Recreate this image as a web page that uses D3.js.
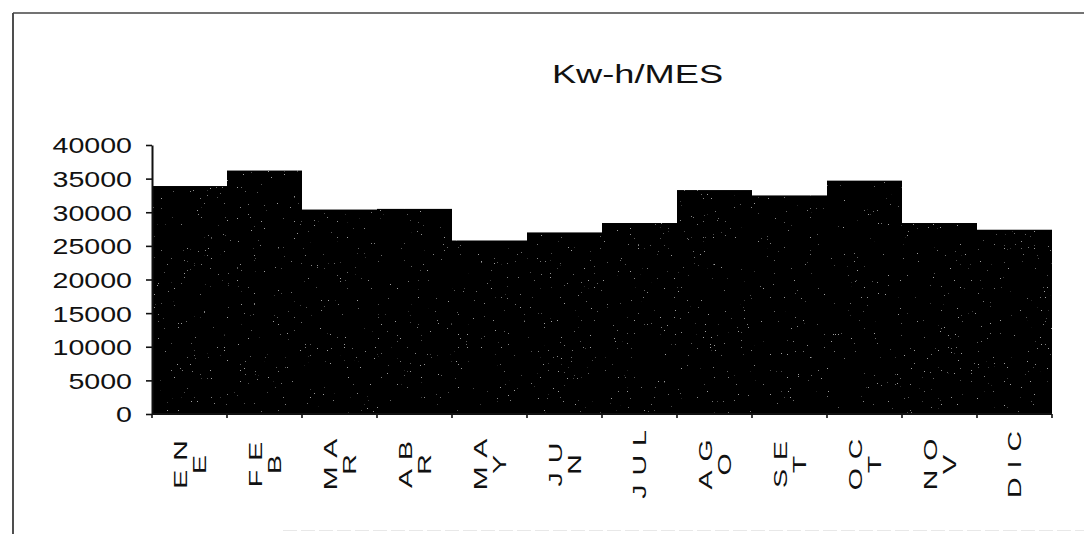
<!DOCTYPE html>
<html>
<head>
<meta charset="utf-8">
<script src="https://cdn.jsdelivr.net/npm/d3@7/dist/d3.min.js"></script>
<style>
  html, body { margin: 0; padding: 0; background: #fff; }
  svg { display: block; font-family: "Liberation Sans", Arial, sans-serif; }
</style>
</head>
<body>
<svg id="chart" width="1084" height="534"></svg>
<script>
// ---- data ----
const title = "Kw-h/MES";
const months = ["ENE","FEB","MAR","ABR","MAY","JUN","JUL","AGO","SET","OCT","NOV","DIC"];
const kwh = [33900, 36200, 30400, 30500, 25800, 27000, 28400, 33300, 32500, 34700, 28400, 27400];
const yTicks = [0, 5000, 10000, 15000, 20000, 25000, 30000, 35000, 40000];

// ---- layout ----
const W = 1084, H = 534;
const plot = { left: 152, right: 1052, top: 145, bottom: 414 };

const svg = d3.select("#chart");

// sparse speckle texture for the scanned-looking bars
const defs = svg.append("defs");
const f = defs.append("filter").attr("id", "speckle")
  .attr("x", 0).attr("y", 0).attr("width", 1).attr("height", 1);
f.append("feTurbulence").attr("type", "fractalNoise").attr("baseFrequency", 0.7)
  .attr("numOctaves", 2).attr("seed", 7).attr("result", "n");
f.append("feColorMatrix").attr("in", "n").attr("type", "matrix")
  .attr("values", "0 0 0 0 0.35  0 0 0 0 0.35  0 0 0 0 0.35  18 0 0 0 -13.8")
  .attr("result", "dots");
f.append("feComposite").attr("in", "dots").attr("in2", "SourceGraphic")
  .attr("operator", "in").attr("result", "d2");
const fm = f.append("feMerge");
fm.append("feMergeNode").attr("in", "SourceGraphic");
fm.append("feMergeNode").attr("in", "d2");

// frame (scanned page border)
svg.append("line").attr("x1", 13).attr("y1", 13).attr("x2", 13).attr("y2", H)
  .attr("stroke", "#222").attr("stroke-width", 1.6);
svg.append("line").attr("x1", 13).attr("y1", 13).attr("x2", W).attr("y2", 13)
  .attr("stroke", "#444").attr("stroke-width", 1.4);
svg.append("line").attr("x1", 283).attr("y1", 530.5).attr("x2", W).attr("y2", 530.5)
  .attr("stroke", "#e8e8e8").attr("stroke-width", 1.2).attr("stroke-dasharray", "14 4");

// scales
const x = d3.scaleBand().domain(months).range([plot.left, plot.right]).padding(0);
const y = d3.scaleLinear().domain([0, 40000]).range([plot.bottom, plot.top]);

// title
svg.append("text")
  .attr("transform", `translate(${(plot.left + plot.right) / 2 + 35.5},83) scale(1.45,1)`)
  .attr("text-anchor", "middle")
  .attr("font-size", 25)
  .attr("fill", "#111")
  .text(title);

// bars
svg.append("g").attr("filter", "url(#speckle)")
  .selectAll("rect").data(months).join("rect")
  .attr("x", d => x(d))
  .attr("width", x.bandwidth())
  .attr("y", (d, i) => y(kwh[i]))
  .attr("height", (d, i) => y(0) - y(kwh[i]))
  .attr("fill", "#050505");

// y axis
const yAxis = svg.append("g")
  .attr("transform", `translate(${plot.left},0)`)
  .call(d3.axisLeft(y).tickValues(yTicks).tickSize(6).tickSizeOuter(0).tickFormat(d3.format("d")));
yAxis.select(".domain").attr("stroke", "#111").attr("stroke-width", 2);
yAxis.selectAll(".tick line").attr("stroke", "#111").attr("stroke-width", 1.6);
yAxis.selectAll(".tick text")
  .attr("x", null).attr("dy", "0.36em")
  .attr("transform", "translate(-20,0) scale(1.3,1)")
  .attr("text-anchor", "end")
  .attr("font-size", 22)
  .attr("font-family", "\"Liberation Sans\", Arial, sans-serif")
  .attr("fill", "#111");

// x axis line with category-boundary ticks
const xg = svg.append("g");
xg.append("line")
  .attr("x1", plot.left).attr("x2", plot.right)
  .attr("y1", y(0)).attr("y2", y(0))
  .attr("stroke", "#111").attr("stroke-width", 2);
const bounds = months.map(m => x(m)).concat([x.range()[1]]);
xg.selectAll("line.tk").data(bounds).join("line").attr("class", "tk")
  .attr("x1", d => d).attr("x2", d => d)
  .attr("y1", y(0)).attr("y2", y(0) + 4)
  .attr("stroke", "#111").attr("stroke-width", 1.6);

// x labels: rotated -90, wrapped when wide (as in the original)
const fs = 19, lh = 19;
const probe = svg.append("text").attr("font-size", fs).attr("visibility", "hidden");
const labG = svg.append("g");
months.forEach(m => {
  probe.text(m);
  const wide = probe.node().getComputedTextLength() > fs * 1.85;
  const lines = wide ? [m.slice(0, 2), m.slice(2)] : [m];
  const cx = x(m) + x.bandwidth() / 2;
  const t = labG.append("text")
    .attr("transform", `translate(${cx},460) rotate(-90) scale(1.5,1)`)
    .attr("text-anchor", "middle")
    .attr("font-size", fs)
    .attr("letter-spacing", 6)
    .attr("fill", "#111");
  lines.forEach((ln, i) => {
    t.append("tspan")
      .attr("x", 0)
      .attr("y", (i - (lines.length - 1) / 2) * lh + 0.358 * fs)
      .text(ln);
  });
});
probe.remove();
</script>
</body>
</html>
